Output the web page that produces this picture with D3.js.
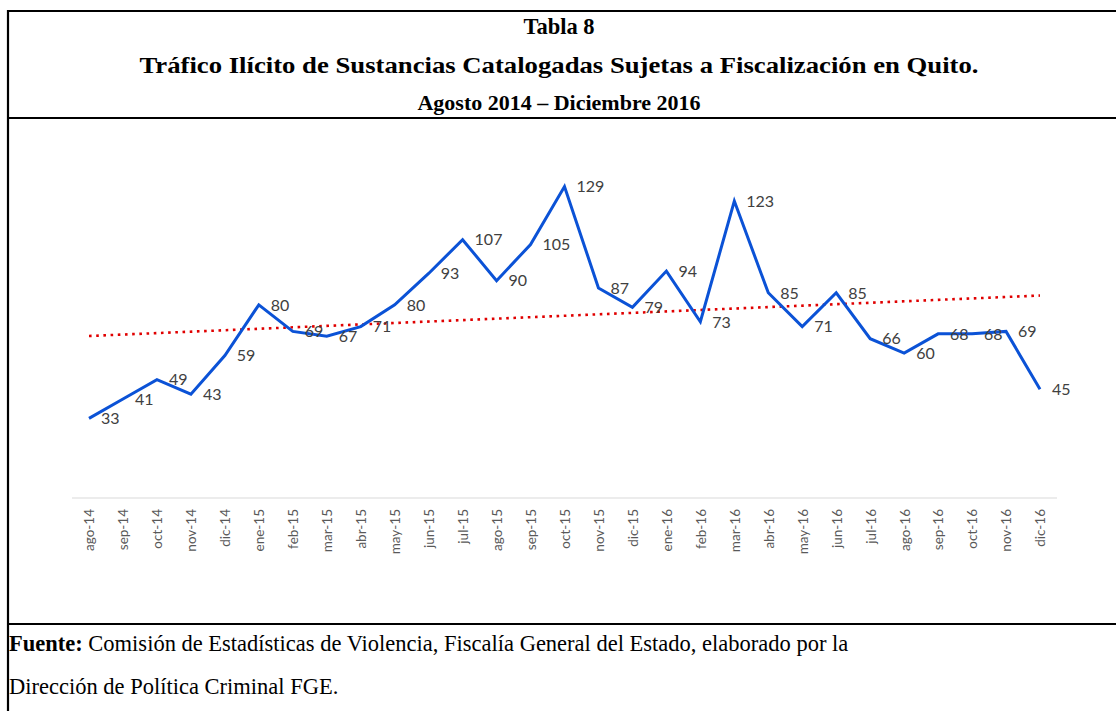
<!DOCTYPE html>
<html>
<head>
<meta charset="utf-8">
<script src="https://cdn.jsdelivr.net/npm/d3@7"></script>
<style>
  html, body { margin: 0; padding: 0; background: #fff; }
  svg { display: block; }
</style>
</head>
<body>
<svg id="chart" width="1116" height="711"></svg>
<script>
const categories = ["ago-14","sep-14","oct-14","nov-14","dic-14","ene-15","feb-15","mar-15","abr-15","may-15","jun-15","jul-15","ago-15","sep-15","oct-15","nov-15","dic-15","ene-16","feb-16","mar-16","abr-16","may-16","jun-16","jul-16","ago-16","sep-16","oct-16","nov-16","dic-16"];
const values = [33,41,49,43,59,80,69,67,71,80,93,107,90,105,129,87,79,94,73,123,85,71,85,66,60,68,68,69,45];
const titleLines = ["Tabla 8", "Tráfico Ilícito de Sustancias Catalogadas Sujetas a Fiscalización en Quito.", "Agosto 2014 – Diciembre 2016"];
const sourceBold = "Fuente:";
const sourceLine1 = " Comisión de Estadísticas de Violencia, Fiscalía General del Estado, elaborado por la";
const sourceLine2 = "Dirección de Política Criminal FGE.";
const yDomain = [0, 140];

const svg = d3.select("#chart");

// Frame lines
const frame = svg.append("g").attr("stroke", "#000").attr("stroke-width", 2.2);
frame.append("line").attr("x1", 7).attr("x2", 1116).attr("y1", 11).attr("y2", 11);
frame.append("line").attr("x1", 7).attr("x2", 1116).attr("y1", 118).attr("y2", 118);
frame.append("line").attr("x1", 7).attr("x2", 1116).attr("y1", 624).attr("y2", 624);
frame.append("line").attr("x1", 8).attr("x2", 8).attr("y1", 10).attr("y2", 711);

// Titles
const titleY = [34, 73, 110];
const titleSize = [22.5, 22.5, 22];
const titleLen = [null, 839, null];
svg.append("g").selectAll("text").data(titleLines).join("text")
  .attr("x", 559).attr("y", (d, i) => titleY[i])
  .attr("text-anchor", "middle")
  .attr("font-family", "'Liberation Serif', 'Times New Roman', serif")
  .attr("font-weight", "bold").attr("font-size", (d, i) => titleSize[i])
  .attr("textLength", (d, i) => titleLen[i])
  .attr("lengthAdjust", "spacingAndGlyphs")
  .attr("fill", "#000")
  .text(d => d);

// Scales
const x = d3.scalePoint().domain(categories).range([89, 1040]);
const y = d3.scaleLinear().domain(yDomain).range([498, 160]);

// Axis baseline
svg.append("line").attr("x1", 72).attr("x2", 1057).attr("y1", y(0)).attr("y2", y(0))
  .attr("stroke", "#d9d9d9").attr("stroke-width", 1);

// X axis labels via d3 axis
const xAxis = d3.axisBottom(x).tickSize(0).tickPadding(0);
const gx = svg.append("g").attr("transform", `translate(0,${y(0)})`).call(xAxis);
gx.select(".domain").remove();
gx.selectAll(".tick text")
  .attr("transform", "rotate(-90)")
  .attr("x", -11).attr("y", 0).attr("dy", "0.36em")
  .attr("text-anchor", "end")
  .attr("font-family", "'Liberation Sans Narrow', 'Arial Narrow', Lato, sans-serif")
  .attr("font-size", 13.5)
  .attr("fill", "#595959");

// Trendline (linear regression of the series)
const n = values.length;
const idx = d3.range(n);
const mx = d3.mean(idx), my = d3.mean(values);
const slope = d3.sum(idx, i => (i - mx) * (values[i] - my)) / d3.sum(idx, i => (i - mx) * (i - mx));
const intercept = my - slope * mx;
svg.append("line")
  .attr("x1", x(categories[0])).attr("y1", y(intercept))
  .attr("x2", x(categories[n - 1])).attr("y2", y(intercept + slope * (n - 1)))
  .attr("stroke", "#e00000").attr("stroke-width", 2.6)
  .attr("stroke-dasharray", "2.6 4.6");

// Series line
const line = d3.line().x((d, i) => x(categories[i])).y(d => y(d));
svg.append("path").datum(values)
  .attr("d", line).attr("fill", "none")
  .attr("stroke", "#0b52d6").attr("stroke-width", 3)
  .attr("stroke-linejoin", "miter");

// Data labels (right of point)
svg.append("g").selectAll("text").data(values).join("text")
  .attr("x", (d, i) => x(categories[i]) + 12)
  .attr("y", d => y(d)).attr("dy", "0.36em")
  .attr("font-family", "Lato, 'Open Sans', sans-serif")
  .attr("font-size", 16)
  .attr("fill", "#404040")
  .text(d => d);

// Source
const src = svg.append("g").attr("font-family", "'Liberation Serif', 'Times New Roman', serif")
  .attr("font-size", 22.5).attr("fill", "#000");
const t1 = src.append("text").attr("x", 9).attr("y", 651);
t1.append("tspan").attr("font-weight", "bold").text(sourceBold);
t1.append("tspan").text(sourceLine1);
src.append("text").attr("x", 9).attr("y", 694).text(sourceLine2);
</script>
</body>
</html>
